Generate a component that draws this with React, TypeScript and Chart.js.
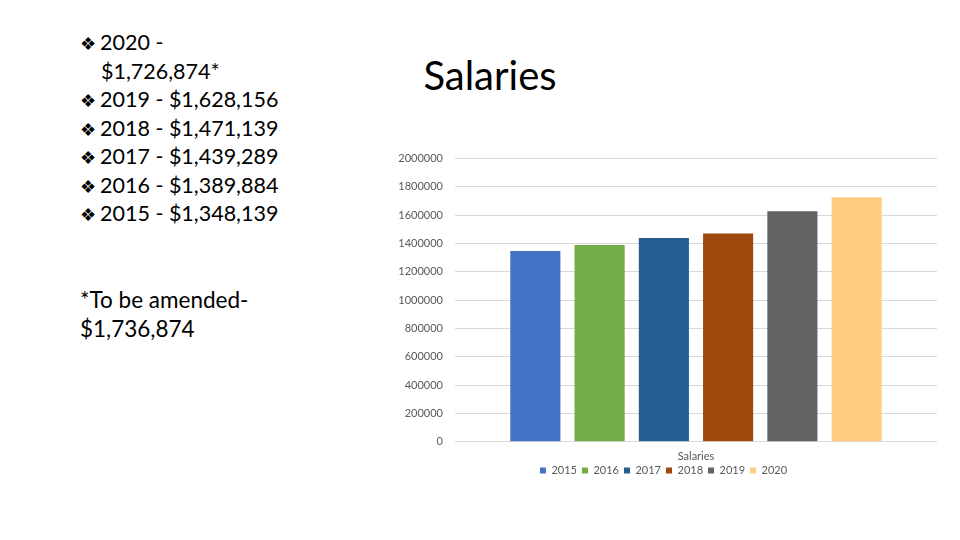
import React, { useEffect, useRef } from "react";
import { Chart, registerables } from "chart.js";

Chart.register(...registerables);

const categories = ["Salaries"];
const seriesNames = ["2015", "2016", "2017", "2018", "2019", "2020"];
const seriesValues = [1348139, 1389884, 1439289, 1471139, 1628156, 1726874];
const seriesColors = ["#4472C4", "#70AD47", "#255E91", "#9E480E", "#636363", "#FFCC80"];
const yTicks = [0, 200000, 400000, 600000, 800000, 1000000, 1200000, 1400000, 1600000, 1800000, 2000000];
const bulletLines = [
  { text: "2020 -", bullet: true },
  { text: "$1,726,874*", bullet: false },
  { text: "2019 - $1,628,156", bullet: true },
  { text: "2018 - $1,471,139", bullet: true },
  { text: "2017 - $1,439,289", bullet: true },
  { text: "2016 - $1,389,884", bullet: true },
  { text: "2015 - $1,348,139", bullet: true },
];
const noteLines = ["*To be amended-", "$1,736,874"];

const FONT = "Lato, 'Open Sans', sans-serif";

export default function App() {
  const ref = useRef<HTMLCanvasElement | null>(null);

  useEffect(() => {
    if (!ref.current) return;
    const chart = new Chart(ref.current, {
      type: "bar",
      data: {
        labels: categories,
        datasets: seriesNames.map((name, i) => ({
          label: name,
          data: [seriesValues[i]],
          backgroundColor: seriesColors[i],
          borderWidth: 0,
          categoryPercentage: 0.8,
          barPercentage: 0.78,
        })),
      },
      options: {
        animation: false,
        responsive: false,
        maintainAspectRatio: false,
        layout: { padding: { top: 12, right: 8, left: 0, bottom: 0 } },
        plugins: {
          title: { display: false },
          tooltip: { enabled: false },
          legend: {
            position: "bottom",
            labels: {
              boxWidth: 6,
              boxHeight: 6,
              padding: 5,
              color: "#595959",
              font: { size: 11, family: FONT },
            },
          },
        },
        scales: {
          x: {
            grid: { display: false, drawTicks: false },
            border: { display: false },
            ticks: { color: "#595959", font: { size: 11, family: FONT }, padding: 8 },
            afterFit: (axis: any) => {
              axis.height = axis.height - 11;
            },
          },
          y: {
            min: 0,
            max: 2000000,
            afterBuildTicks: (axis: any) => {
              axis.ticks = yTicks.map((v) => ({ value: v }));
            },
            afterFit: (axis: any) => {
              axis.width = 65;
            },
            grid: { color: "#D9D9D9", drawTicks: false, lineWidth: 1 },
            border: { display: false },
            ticks: {
              color: "#595959",
              font: { size: 11, family: FONT },
              padding: 12,
              callback: (v: any) => String(v),
            },
          },
        },
      },
    });
    return () => chart.destroy();
  }, []);

  return (
    <div style={{ position: "fixed", left: 0, top: 0, width: 960, height: 540, background: "#fff", overflow: "hidden" }}>
      <div style={{ position: "absolute", left: 80, top: 28, fontFamily: FONT, fontSize: 21.5, lineHeight: "28.5px", color: "#000" }}>
        {bulletLines.map((l, i) => (
          <div key={i} style={{ whiteSpace: "nowrap", height: 28.5, paddingLeft: l.bullet ? 0 : 21 }}>
            {l.bullet ? (
              <span style={{ fontSize: 18, lineHeight: "18px", display: "inline-block", width: 20, fontFamily: "DejaVu Sans", verticalAlign: "baseline" }}>❖</span>
            ) : null}
            {l.text}
          </div>
        ))}
      </div>
      <div style={{ position: "absolute", left: 80, top: 286, fontFamily: FONT, fontSize: 22.5, lineHeight: "28.6px", color: "#000" }}>
        {noteLines.map((t, i) => (
          <div key={i} style={{ whiteSpace: "nowrap" }}>{t}</div>
        ))}
      </div>
      <div style={{ position: "absolute", left: 390, top: 50, width: 200, textAlign: "center", fontFamily: FONT, fontSize: 40, lineHeight: "50px", color: "#000" }}>
        Salaries
      </div>
      <canvas ref={ref} width={555} height={346} style={{ position: "absolute", left: 390, top: 140, width: 555, height: 346 }} />
    </div>
  );
}
